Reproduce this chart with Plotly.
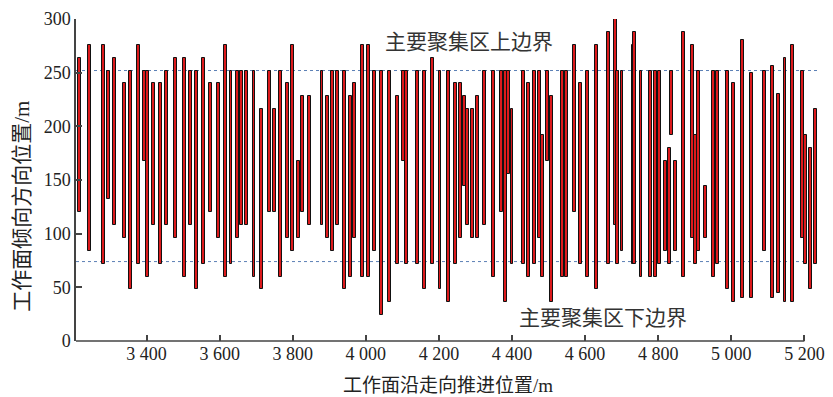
import plotly.graph_objects as go

# advance positions along strike (m)
x_pos = [3216,3243,3283,3296,3313,3339,3357,3378,3395,3403,
         3419,3439,3455,3480,3503,3520,3537,3555,3576,3596,
         3615,3631,3648,3661,3673,3694,3714,3736,3750,3767,
         3785,3799,3817,3827,3846,3880,3896,3910,3923,3941,
         3959,3970,3990,4007,4023,4042,4065,4087,4103,4112,
         4142,4160,4183,4203,4226,4245,4260,4269,4278,4293,
         4306,4324,4350,4370,4383,4391,4400,4431,4444,4461,
         4474,4484,4497,4507,4538,4550,4570,4587,4606,4630,
         4665,4682,4688,4701,4731,4736,4753,4779,4793,4804,
         4820,4830,4836,4847,4868,4894,4903,4910,4929,4952,
         4963,4989,5005,5031,5056,5090,5114,5128,5147,5168,
         5195,5202,5217,5230]

# upper end of each event band (m)
tops = [264,276,276,252,264,240,252,276,252,252,
        240,240,252,264,264,252,252,264,240,240,
        276,252,252,252,252,252,216,252,216,252,
        240,276,168,228,228,252,228,252,252,252,
        228,240,276,276,252,252,252,228,252,252,
        252,252,264,252,252,240,240,228,216,216,
        228,252,252,252,252,252,216,252,240,252,
        252,192,252,228,252,252,276,240,252,276,
        288,300,252,252,276,288,252,252,252,252,
        168,180,252,168,288,276,192,252,144,252,
        252,252,240,280,250,252,256,230,264,276,
        252,192,180,216]

# lower end of each event band (m)
bottoms = [120,84,72,132,108,96,48,72,168,60,
           108,72,108,96,60,108,48,72,120,96,
           60,72,96,108,108,60,48,120,120,60,
           96,84,96,120,108,108,96,84,108,48,
           60,96,60,60,84,24,36,72,168,72,
           72,48,72,48,36,72,96,144,108,96,
           96,108,60,120,36,156,72,72,60,72,
           96,60,168,36,60,60,120,72,60,48,
           72,108,72,84,72,72,60,60,60,72,
           84,72,192,84,60,96,72,84,96,60,
           72,48,36,40,40,84,40,45,36,36,
           96,72,48,72]

upper_bound = 252
lower_bound = 74

x_ticks = [3400, 3600, 3800, 4000, 4200, 4400, 4600, 4800, 5000, 5200]
x_tick_labels = ["3 400", "3 600", "3 800", "4 000", "4 200",
                 "4 400", "4 600", "4 800", "5 000", "5 200"]
y_ticks = [0, 50, 100, 150, 200, 250, 300]

FONT = "Liberation Serif, Noto Sans CJK SC"

heights = [t - b for t, b in zip(tops, bottoms)]

fig = go.Figure()
fig.add_trace(go.Bar(
    x=x_pos, y=heights, base=bottoms, width=8,
    marker=dict(color="#dc1a1c", line=dict(color="#111111", width=1)),
    cliponaxis=False, showlegend=False, hoverinfo="skip",
))

# boundary lines
for v in (upper_bound, lower_bound):
    fig.add_shape(type="line", xref="paper", x0=0, x1=1, yref="y", y0=v, y1=v,
                  line=dict(color="#5b7fb5", width=1, dash="dot"), layer="below")

# bottom axis line (ends at 5200)
fig.add_shape(type="line", xref="x", x0=3207, x1=5200, yref="paper", y0=0, y1=0,
              line=dict(color="#444444", width=1.5))

fig.add_annotation(text="主要聚集区上边界", xref="x", x=4283, yref="y", y=279,
                   showarrow=False, font=dict(family=FONT, size=21, color="#333333"))
fig.add_annotation(text="主要聚集区下边界", xref="x", x=4650, yref="y", y=21,
                   showarrow=False, font=dict(family=FONT, size=21, color="#333333"))

fig.add_annotation(text="工作面沿走向推进位置/m", xref="paper", x=0.5, yref="paper", y=-0.137,
                   xanchor="center", yanchor="middle",
                   showarrow=False, font=dict(family=FONT, size=19, color="#222222"))
fig.add_annotation(text="工作面倾向方向位置/m", xref="paper", x=-0.0727, yref="paper", y=0.42,
                   xanchor="center", yanchor="middle",
                   textangle=-90, showarrow=False,
                   font=dict(family=FONT, size=21, color="#222222"))

fig.update_layout(
    width=833, height=397,
    margin=dict(l=75.5, r=8.3, t=19, b=56),
    paper_bgcolor="white", plot_bgcolor="white",
    barmode="overlay", bargap=0,
    font=dict(family=FONT, size=18, color="#222222"),
    xaxis=dict(range=[3207, 5240], tickvals=x_ticks, ticktext=x_tick_labels,
               showgrid=False, zeroline=False, showline=False,
               ticks="inside", ticklen=6, tickcolor="#444444", tickwidth=1.5,
               tickfont=dict(family=FONT, size=18, color="#222222")),
    yaxis=dict(range=[0, 300], tickvals=y_ticks,
               showgrid=False, zeroline=False, showline=True, linecolor="#444444",
               linewidth=1.5, ticks="inside", ticklen=6, tickcolor="#444444",
               tickwidth=1.5,
               tickfont=dict(family=FONT, size=18, color="#222222")),
)

fig.write_html("out.html", config={"displayModeBar": False},
               post_script="document.body.style.margin='0';")
